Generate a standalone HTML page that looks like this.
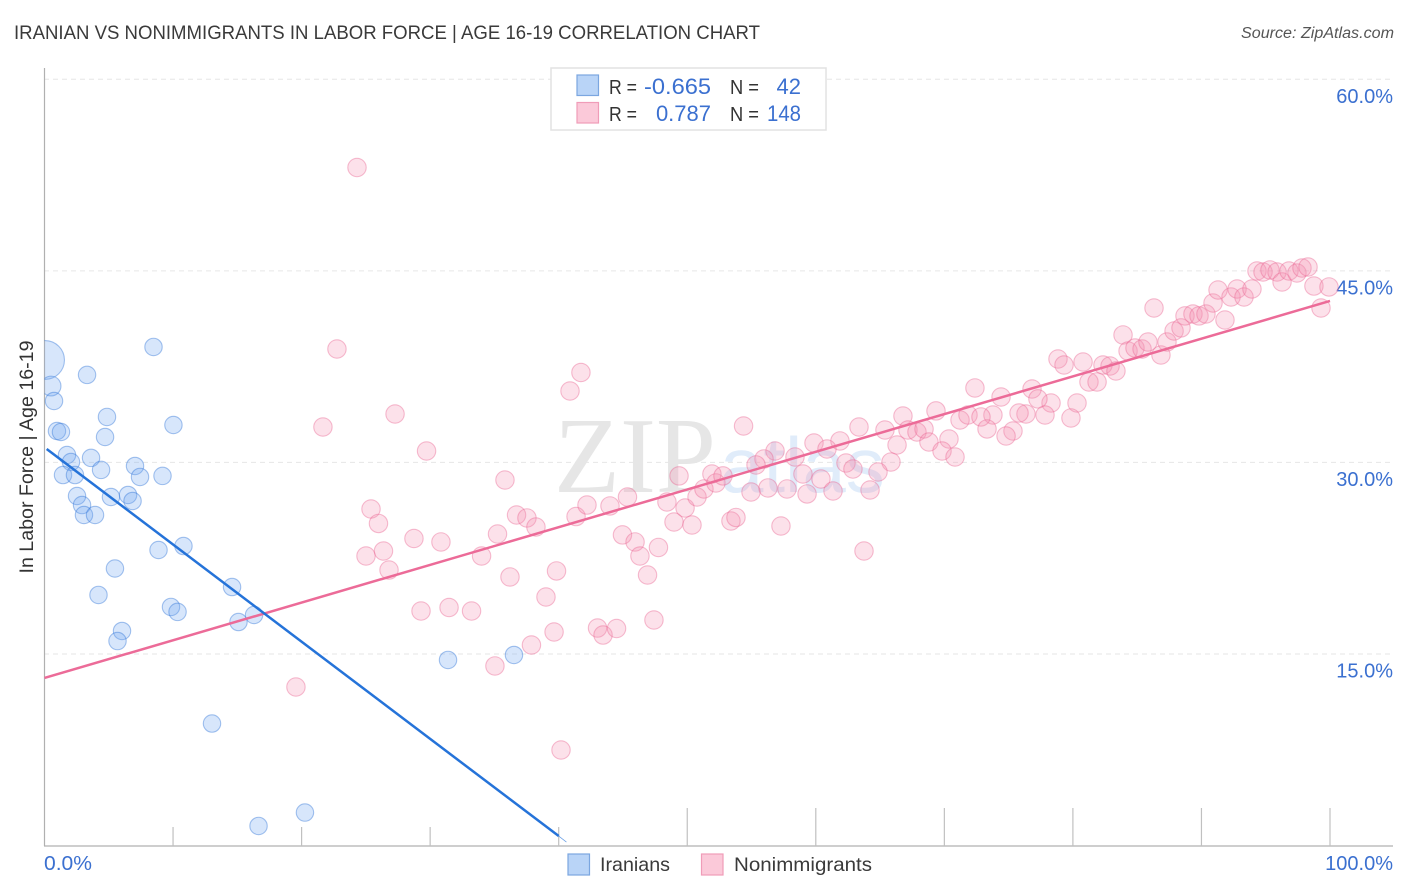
<!DOCTYPE html>
<html lang="en">
<head>
<meta charset="utf-8">
<title>Iranian vs Nonimmigrants in Labor Force | Age 16-19 Correlation Chart</title>
<style>
html,body{margin:0;padding:0;background:#fff;width:1406px;height:892px;overflow:hidden}
svg{display:block;font-family:"Liberation Sans",Arial,sans-serif}
</style>
</head>
<body>
<svg id="chart" xmlns="http://www.w3.org/2000/svg" width="1406" height="892" viewBox="0 0 1406 892">
  <defs>
    <clipPath id="plot-clip"><rect x="44.5" y="60" width="1350" height="786"/></clipPath>
  </defs>
  <rect x="0" y="0" width="1406" height="892" fill="#ffffff"/>
  <text x="14" y="39" font-size="19" fill="#3a3a3a" textLength="746" lengthAdjust="spacingAndGlyphs">IRANIAN VS NONIMMIGRANTS IN LABOR FORCE | AGE 16-19 CORRELATION CHART</text>
  <text x="1394" y="38" font-size="15.5" font-style="italic" fill="#555" text-anchor="end" textLength="153" lengthAdjust="spacingAndGlyphs">Source: ZipAtlas.com</text>
  <g id="watermark">
    <text x="554" y="492" font-family="'Liberation Serif',serif" font-size="108" fill="#e6e6e6">ZIP</text>
    <text x="720" y="492" font-size="78" fill="#e0ecfa">atlas</text>
  </g>
  <g id="grid"></g>
  <g id="axes">
    <line x1="44.5" y1="68" x2="44.5" y2="846" stroke="#b0b0b0" stroke-width="1.2"/>
    <line x1="44" y1="846" x2="1393" y2="846" stroke="#b0b0b0" stroke-width="1.2"/>
  </g>
  <g id="x-ticks"></g>
  <g id="y-labels"></g>
  <g id="x-labels"></g>
  <text transform="translate(33,457) rotate(-90)" font-size="19" fill="#333" text-anchor="middle" textLength="233" lengthAdjust="spacingAndGlyphs">In Labor Force | Age 16-19</text>
  <g id="points-nonimmigrants" clip-path="url(#plot-clip)"></g>
  <g id="points-iranians" clip-path="url(#plot-clip)"></g>
  <g id="trends"></g>

  <g>
    <rect x="551" y="68" width="275" height="62" fill="#fff" stroke="#e2e2e2" stroke-width="1.5"/>
    <rect x="577" y="75" width="21.5" height="20.5" fill="#b9d4f7" stroke="#7ba6e0" stroke-width="1.2"/>
    <rect x="577" y="102.5" width="21.5" height="20.5" fill="#fbc9d9" stroke="#f09cb8" stroke-width="1.2"/>
    <g font-size="20">
      <text x="609" y="94" fill="#333" textLength="28" lengthAdjust="spacingAndGlyphs">R =</text>
      <text x="644" y="94" fill="#3b70d0" font-size="22" textLength="67" lengthAdjust="spacingAndGlyphs">-0.665</text>
      <text x="730" y="94" fill="#333" textLength="29" lengthAdjust="spacingAndGlyphs">N =</text>
      <text x="801" y="94" fill="#3b70d0" text-anchor="end" font-size="22">42</text>
      <text x="609" y="121" fill="#333" textLength="28" lengthAdjust="spacingAndGlyphs">R =</text>
      <text x="711" y="121" fill="#3b70d0" text-anchor="end" font-size="22">0.787</text>
      <text x="730" y="121" fill="#333" textLength="29" lengthAdjust="spacingAndGlyphs">N =</text>
      <text x="767" y="121" fill="#3b70d0" font-size="22" textLength="34" lengthAdjust="spacingAndGlyphs">148</text>
    </g>
  </g>

  <g>
    <rect x="568" y="854" width="21.5" height="21" fill="#b9d4f7" stroke="#7ba6e0" stroke-width="1.2"/>
    <text x="600" y="871" font-size="19.5" fill="#3a3a3a" textLength="70" lengthAdjust="spacingAndGlyphs">Iranians</text>
    <rect x="701.5" y="854" width="21.5" height="21" fill="#fbc9d9" stroke="#f09cb8" stroke-width="1.2"/>
    <text x="734" y="871" font-size="19.5" fill="#3a3a3a" textLength="138" lengthAdjust="spacingAndGlyphs">Nonimmigrants</text>
  </g>
</svg>
<script>
var iranianX = [0.04,0.51,0.74,0.97,1.28,3.31,8.48,4.86,4.71,10.03,1.75,2.06,3.62,4.40,1.44,2.37,7.04,7.43,9.18,2.53,2.92,3.07,3.93,5.17,6.50,6.85,8.87,10.81,5.48,4.20,9.84,10.35,14.59,16.30,15.09,6.03,5.68,13.03,31.39,36.52,16.65,20.26];
var iranianY = [38.02,35.98,34.81,32.46,32.38,36.85,39.04,33.56,31.99,32.93,30.58,30.03,30.35,29.41,29.01,29.01,29.72,28.86,28.94,27.37,26.66,25.88,25.88,27.29,27.45,26.98,23.14,23.45,21.69,19.62,18.68,18.29,20.24,18.05,17.50,16.80,16.01,9.55,14.53,14.92,1.53,2.58];
var iranianWeights = [5,1.3,1,1,1,1,1,1,1,1,1,1,1,1,1,1,1,1,1,1,1,1,1,1,1,1,1,1,1,1,1,1,1,1,1,1,1,1,1,1,1,1];
var nonimmigrantX = [24.31,22.75,21.66,27.27,29.72,19.56,35.82,25.40,25.98,25.01,26.37,26.80,28.74,30.84,29.29,31.47,33.22,34.00,35.24,36.21,36.72,37.53,38.23,35.04,37.88,39.64,39.01,39.83,40.18,41.35,40.88,41.73,42.20,43.99,45.35,43.02,43.45,44.50,44.96,45.94,46.32,46.91,47.76,47.41,48.42,48.97,49.83,50.37,49.36,50.76,51.30,51.92,52.23,52.78,53.40,53.79,54.38,57.29,66.78,69.35,71.22,71.84,63.36,65.38,67.17,67.87,68.42,59.86,61.88,60.87,56.83,58.38,55.97,55.35,66.32,68.80,70.36,69.82,70.83,65.85,62.35,62.89,64.84,59.00,60.40,64.22,61.34,59.32,57.76,56.28,54.96,63.75,72.38,74.41,76.82,78.84,79.31,80.79,82.34,82.89,83.35,81.25,81.88,80.32,79.85,78.30,77.28,77.83,76.35,75.81,75.34,74.80,73.78,72.85,73.32,86.31,83.90,84.29,84.83,85.38,85.84,86.85,87.32,87.87,88.41,88.72,89.34,89.81,90.35,90.90,91.83,91.29,92.30,92.77,93.31,93.93,94.32,94.79,95.33,95.88,96.27,96.81,97.43,97.82,98.29,98.75,99.92,99.30];
var nonimmigrantY = [53.09,38.88,32.77,33.79,30.89,12.41,28.62,26.35,25.22,22.67,23.06,21.57,24.04,23.77,18.36,18.64,18.36,22.67,24.39,21.03,25.88,25.65,24.94,14.06,15.70,16.72,19.46,21.50,7.48,25.76,35.59,37.04,26.66,26.59,27.29,17.03,16.48,16.99,24.32,23.77,22.67,21.18,23.34,17.66,26.90,25.33,26.43,25.10,28.94,27.29,27.92,29.09,28.39,28.94,25.41,25.69,32.85,25.02,33.63,34.03,33.32,33.71,32.77,32.54,32.54,32.38,32.62,31.52,31.68,31.05,30.89,30.42,30.27,29.80,31.36,31.60,31.83,30.89,30.42,30.03,29.95,29.48,29.25,29.09,28.70,27.84,27.76,27.53,27.92,28.00,27.68,23.06,35.83,35.12,35.75,38.10,37.63,37.86,37.63,37.55,37.16,36.30,36.30,34.65,33.48,34.65,34.97,33.71,33.79,33.87,32.46,32.07,33.71,33.56,32.62,42.09,39.98,38.72,38.96,38.88,39.43,38.41,39.43,40.29,40.53,41.47,41.62,41.47,41.62,42.48,41.15,43.50,42.95,43.58,42.95,43.58,44.99,44.91,45.07,44.91,44.13,44.99,44.83,45.22,45.30,43.81,43.74,42.09];
var iranianTrendX = [0.17,40.0];
var iranianTrendY = [31.05,0.74];
var iranianTrendTailX = [40.0,40.6];
var iranianTrendTailY = [0.74,0.27];
var nonimmigrantTrendX = [0,100];
var nonimmigrantTrendY = [13.12,42.64];
var yTickValues = [60,45,30,15];
var yTickLabels = ["60.0%","45.0%","30.0%","15.0%"];
var xTickValues = [10,20,30,40,50,60,70,80,90,100];
var xLabelValues = ["0.0%","100.0%"];

var NS = 'http://www.w3.org/2000/svg';
function xScale(v){ return 44.5 + v * 12.855; }
function yScale(v){ return 845.5 - v * 12.77; }
function mk(tag, attrs, parent){
  var el = document.createElementNS(NS, tag);
  for (var k in attrs) el.setAttribute(k, attrs[k]);
  parent.appendChild(el);
  return el;
}

var gridG = document.getElementById('grid');
yTickValues.forEach(function(v){
  var l = mk('line', {x1:44, x2:1393, y1:yScale(v), y2:yScale(v), stroke:'#e6e6e6', 'stroke-width':1, 'stroke-dasharray':'5 4'}, gridG);
  
  
});

var xTickG = document.getElementById('x-ticks');
xTickValues.forEach(function(v){
  var top = v >= 50 ? 808 : 827;
  var t = mk('line', {x1:xScale(v), x2:xScale(v), y1:top, y2:846, stroke:'#c0c0c0', 'stroke-width':1.2}, xTickG);
  
  
});

var yLabelG = document.getElementById('y-labels');
yTickValues.forEach(function(v, i){
  var t = mk('text', {x:1393, y:yScale(v) + 23.5, 'font-size':20, fill:'#3b70d0', 'text-anchor':'end'}, yLabelG);
  t.textContent = yTickLabels[i];
  
  
});

var xLabelG = document.getElementById('x-labels');
var xLab0 = mk('text', {x:44, y:870, 'font-size':20, fill:'#3b70d0', textLength:48, lengthAdjust:'spacingAndGlyphs'}, xLabelG);
xLab0.textContent = xLabelValues[0];


var xLab1 = mk('text', {x:1393, y:870, 'font-size':20, fill:'#3b70d0', 'text-anchor':'end'}, xLabelG);
xLab1.textContent = xLabelValues[1];



var pinkG = document.getElementById('points-nonimmigrants');
nonimmigrantX.forEach(function(v, i){
  var c = mk('circle', {cx:xScale(v), cy:yScale(nonimmigrantY[i]), r:9.2, fill:'rgba(244,143,177,0.27)', stroke:'rgba(233,100,145,0.42)', 'stroke-width':1.1}, pinkG);
  
  
});

var blueG = document.getElementById('points-iranians');
iranianX.forEach(function(v, i){
  var c = mk('circle', {cx:xScale(v), cy:yScale(iranianY[i]), r:8.7 * Math.sqrt(iranianWeights[i]), fill:'rgba(110,165,240,0.28)', stroke:'rgba(45,115,215,0.42)', 'stroke-width':1.1}, blueG);
  
  
});

var trendG = document.getElementById('trends');
var pinkTrend = mk('line', {x1:xScale(nonimmigrantTrendX[0]), y1:yScale(nonimmigrantTrendY[0]), x2:xScale(nonimmigrantTrendX[1]), y2:yScale(nonimmigrantTrendY[1]), stroke:'#ec6b98', 'stroke-width':2.5}, trendG);


var blueTrend = mk('line', {x1:xScale(iranianTrendX[0]), y1:yScale(iranianTrendY[0]), x2:xScale(iranianTrendX[1]), y2:yScale(iranianTrendY[1]), stroke:'#2573d9', 'stroke-width':2.5}, trendG);


var blueTail = mk('line', {x1:xScale(iranianTrendTailX[0]), y1:yScale(iranianTrendTailY[0]), x2:xScale(iranianTrendTailX[1]), y2:yScale(iranianTrendTailY[1]), stroke:'#2573d9', 'stroke-width':0.7, opacity:0.7}, trendG);


</script>
</body>
</html>
